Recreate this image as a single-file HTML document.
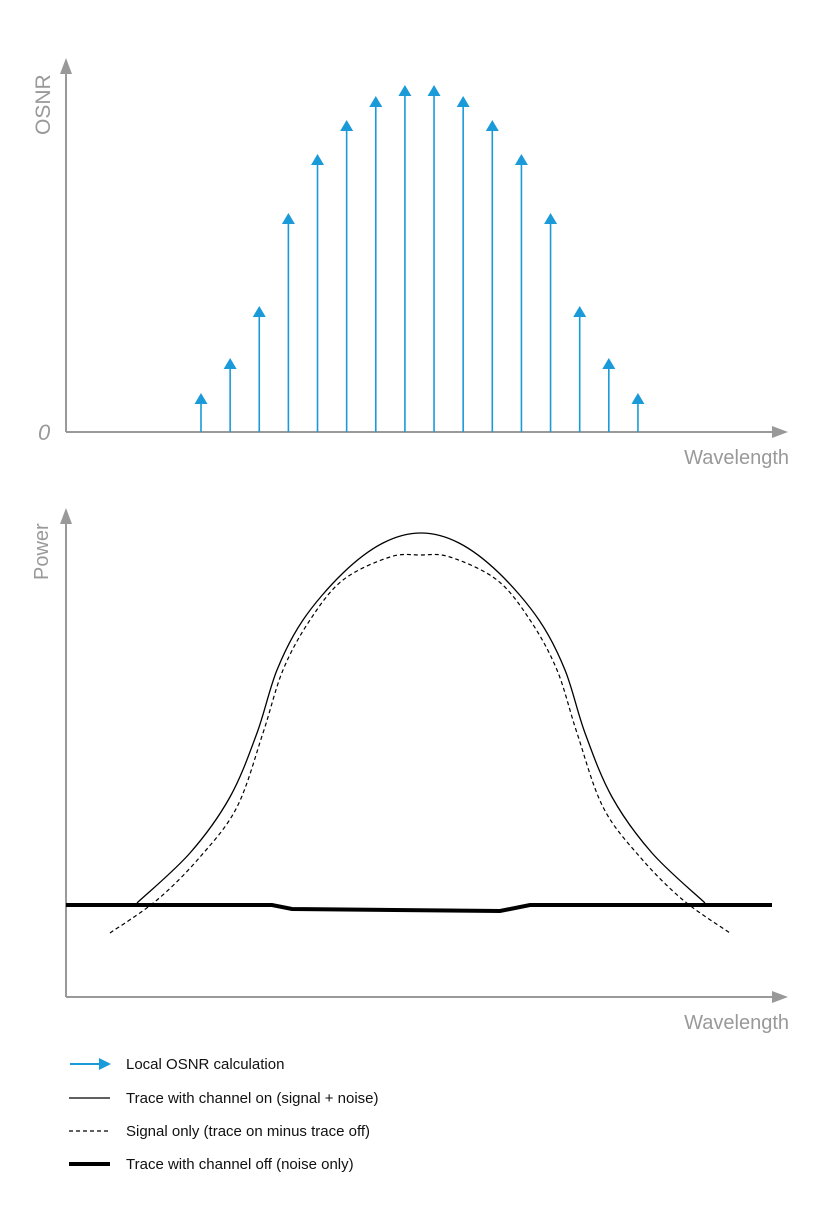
<!DOCTYPE html>
<html><head><meta charset="utf-8"><style>
body{margin:0;background:#fff;}
svg text{font-family:"Liberation Sans",sans-serif;}
</style></head><body>
<svg width="835" height="1200" viewBox="0 0 835 1200">
<g id="top">
  <line x1="66" y1="432" x2="66" y2="68" stroke="#999" stroke-width="2"/>
  <polygon points="66,58 60,74 72,74" fill="#999"/>
  <line x1="66" y1="432" x2="776" y2="432" stroke="#999" stroke-width="2"/>
  <polygon points="788,432 772,426 772,438" fill="#999"/>
  <text x="0" y="0" transform="translate(50,135) rotate(-90)" font-size="21" fill="#999">OSNR</text>
  <text x="38" y="440" font-size="22" font-style="italic" fill="#999">0</text>
  <text x="789" y="464" font-size="20" fill="#999" text-anchor="end">Wavelength</text>
  <g id="stems"></g>
</g>
<g id="bottom">
  <line x1="66" y1="997" x2="66" y2="520" stroke="#999" stroke-width="2"/>
  <polygon points="66,508 60,524 72,524" fill="#999"/>
  <line x1="66" y1="997" x2="776" y2="997" stroke="#999" stroke-width="2"/>
  <polygon points="788,997 772,991 772,1003" fill="#999"/>
  <text x="0" y="0" transform="translate(48,580) rotate(-90)" font-size="20" fill="#999">Power</text>
  <text x="789" y="1029" font-size="20" fill="#999" text-anchor="end">Wavelength</text>
  <path id="noise" fill="none" stroke="#000" stroke-width="4"/>
  <path id="solid" fill="none" stroke="#000" stroke-width="1.3"/>
  <path id="dashed" fill="none" stroke="#000" stroke-width="1.2" stroke-dasharray="4,3"/>
</g>
<g>
  <g>
    <line x1="70" y1="1064" x2="100" y2="1064" stroke="#1a9ad9" stroke-width="2"/>
    <polygon points="111,1064 99,1058 99,1070" fill="#1a9ad9"/>
    <text x="126" y="1069" font-size="15" fill="#111">Local OSNR calculation</text>
  </g>
  <g>
    <line x1="69" y1="1098" x2="110" y2="1098" stroke="#000" stroke-width="1.3"/>
    <text x="126" y="1103" font-size="15" fill="#111">Trace with channel on (signal + noise)</text>
  </g>
  <g>
    <line x1="69" y1="1131" x2="110" y2="1131" stroke="#000" stroke-width="1.2" stroke-dasharray="4,3"/>
    <text x="126" y="1136" font-size="15" fill="#111">Signal only (trace on minus trace off)</text>
  </g>
  <g>
    <line x1="69" y1="1164" x2="110" y2="1164" stroke="#000" stroke-width="4"/>
    <text x="126" y="1169" font-size="15" fill="#111">Trace with channel off (noise only)</text>
  </g>
</g>
</svg>
<script>
// Top chart data
const channels = [1,2,3,4,5,6,7,8,9,10,11,12,13,14,15,16];
const osnrValues = [39,74,126,219,278,312,336,347,347,336,312,278,219,126,74,39];
// Bottom chart data (wavelength units, power units)
const onWl = [71,124,164,191,211,237,277,317,355,393,433,473,499,519,546,586,639];
const onPw = [94,144,200,264,327,377,424,454,464,454,424,377,327,264,200,144,94];
const sigWl = [44,91,134,171,197,217,244,277,324,354,384,431,464,491,511,537,574,617,664];
const sigPw = [64,97,140,190,264,327,377,417,440,442,440,417,377,327,264,190,140,97,64];
const offWl = [0,206,226,434,464,706];
const offPw = [92,92,88,86,92,92];

const ns="http://www.w3.org/2000/svg";
const xTop = i => 201 + (i-1)*29.13;
const yTop = v => 432 - v;
const stems = document.getElementById('stems');
channels.forEach((c,k)=>{
  const x = xTop(c), y = yTop(osnrValues[k]);
  const l = document.createElementNS(ns,'line');
  l.setAttribute('x1',x);l.setAttribute('x2',x);l.setAttribute('y1',432);l.setAttribute('y2',y+8);
  l.setAttribute('stroke','#1a9ad9');l.setAttribute('stroke-width','1.6');
  
  
  stems.appendChild(l);
  const p = document.createElementNS(ns,'polygon');
  p.setAttribute('points',`${x},${y} ${x-6.5},${y+11} ${x+6.5},${y+11}`);
  p.setAttribute('fill','#1a9ad9');
  
  
  stems.appendChild(p);
});
const xB = w => 66 + w;
const yB = v => 997 - v;
function smooth(xs,ys){
  const P = xs.map((w,i)=>[xB(w),yB(ys[i])]);
  let d = `M${P[0][0]},${P[0][1]}`;
  for(let i=0;i<P.length-1;i++){
    const p0=P[Math.max(i-1,0)],p1=P[i],p2=P[i+1],p3=P[Math.min(i+2,P.length-1)];
    const c1=[p1[0]+(p2[0]-p0[0])/6,p1[1]+(p2[1]-p0[1])/6];
    const c2=[p2[0]-(p3[0]-p1[0])/6,p2[1]-(p3[1]-p1[1])/6];
    d+=` C${c1[0]},${c1[1]} ${c2[0]},${c2[1]} ${p2[0]},${p2[1]}`;
  }
  return d;
}
document.getElementById('solid').setAttribute('d',smooth(onWl,onPw));
document.getElementById('dashed').setAttribute('d',smooth(sigWl,sigPw));
document.getElementById('noise').setAttribute('d','M'+offWl.map((w,i)=>xB(w)+','+yB(offPw[i])).join(' L'));
</script>
</body></html>
